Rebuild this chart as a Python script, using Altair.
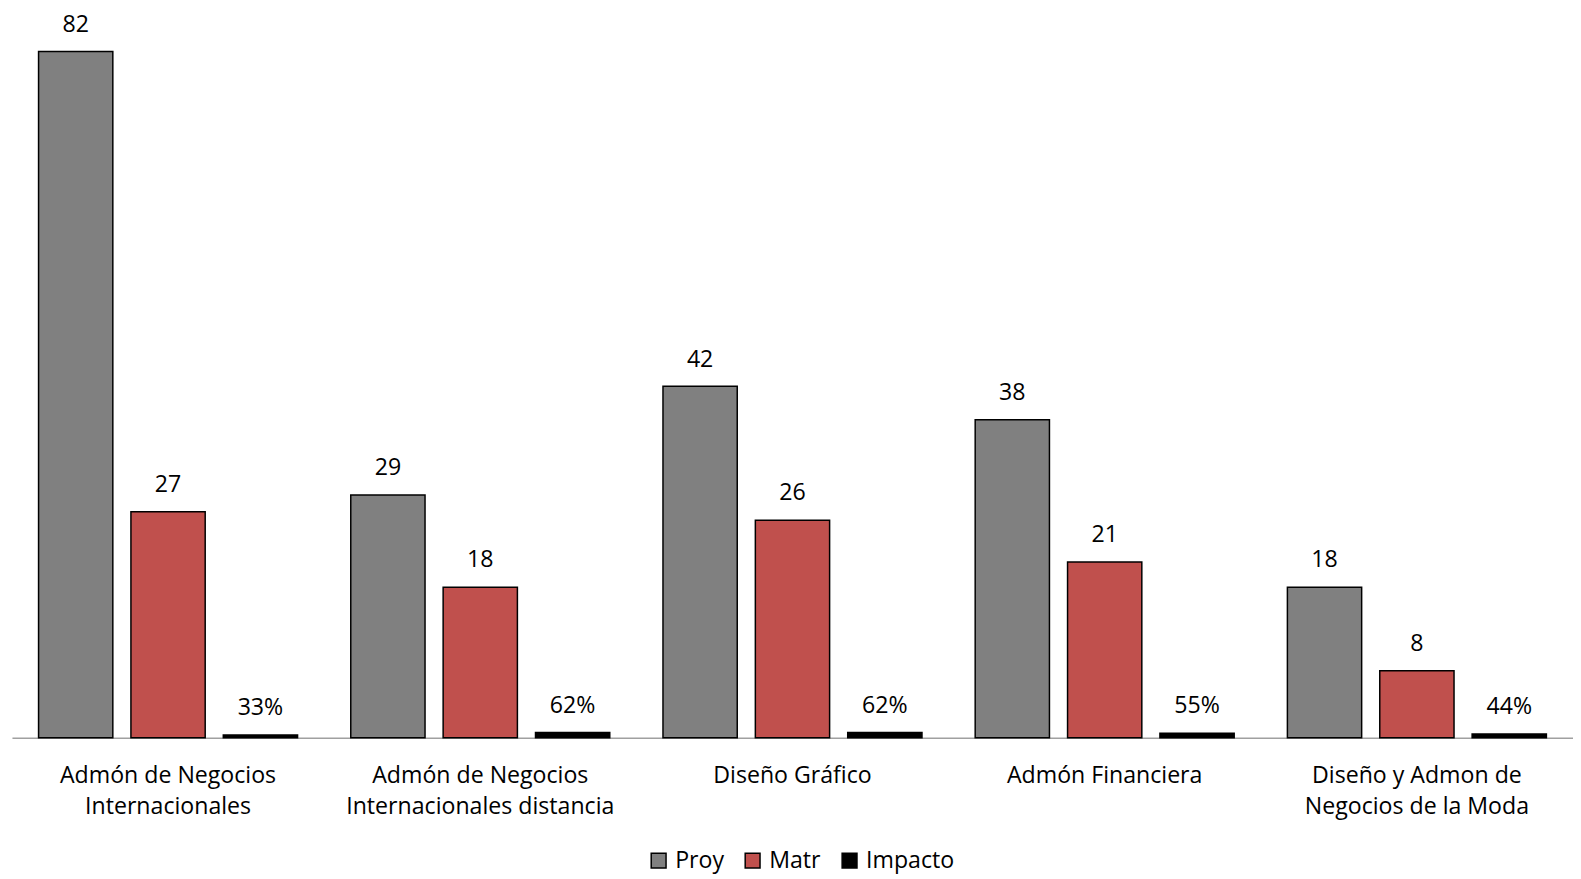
import altair as alt
import pandas as pd

categories = [
    "Admón de Negocios|Internacionales",
    "Admón de Negocios|Internacionales distancia",
    "Diseño Gráfico",
    "Admón Financiera",
    "Diseño y Admon de|Negocios de la Moda",
]
series = ["Proy", "Matr", "Impacto"]
proy = [82, 29, 42, 38, 18]
matr = [27, 18, 26, 21, 8]
impacto = [0.33, 0.62, 0.62, 0.55, 0.44]

rows = []
for i, c in enumerate(categories):
    rows.append({"cat": c, "serie": "Proy", "v": proy[i], "label": str(proy[i])})
    rows.append({"cat": c, "serie": "Matr", "v": matr[i], "label": str(matr[i])})
    rows.append({"cat": c, "serie": "Impacto", "v": impacto[i], "label": f"{round(impacto[i]*100)}%"})
df = pd.DataFrame(rows)

FONT = "Open Sans"
FS = 23.4

x = alt.X("cat:N", sort=categories, title=None,
          scale=alt.Scale(paddingInner=0, paddingOuter=0),
          axis=alt.Axis(labelExpr="split(datum.label, '|')", labelAngle=0,
                        labelFontSize=FS, labelFont=FONT, labelColor="#000000",
                        labelPadding=27, labelLineHeight=31.5, ticks=False, labelLimit=0,
                        domainColor="#a0a0a0", domainWidth=1.5, labelBaseline="top"))
xo = alt.XOffset("serie:N", sort=series,
                 scale=alt.Scale(paddingInner=0.196, paddingOuter=0.288))
y = alt.Y("v:Q", scale=alt.Scale(domain=[0, 86.65], nice=False, zero=True),
          axis=None)

bars = alt.Chart(df).mark_bar(stroke="#000000", strokeWidth=1.5).encode(
    x=x, xOffset=xo, y=y,
    color=alt.Color("serie:N", sort=series,
                    scale=alt.Scale(domain=series, range=["#808080", "#C0504D", "#000000"]),
                    legend=alt.Legend(title=None, orient="none", legendX=642, legendY=845,
                                      direction="horizontal", symbolType="square",
                                      symbolSize=225, symbolStrokeColor="#000000",
                                      symbolStrokeWidth=1.5, labelFontSize=FS,
                                      labelFont=FONT, labelColor="#000000",
                                      columnPadding=17, labelOffset=5)),
)

text = alt.Chart(df).mark_text(baseline="bottom", dy=-15, fontSize=FS, font=FONT,
                               color="#000000").encode(
    x=x, xOffset=xo, y=y, text="label:N")

chart = alt.layer(bars, text).properties(
    width=1578, height=733,
    padding={"left": 4, "top": 0, "right": 0, "bottom": 0},
).configure_view(stroke=None)

chart.save("out.html", embed_options={"renderer": "svg", "actions": False})
